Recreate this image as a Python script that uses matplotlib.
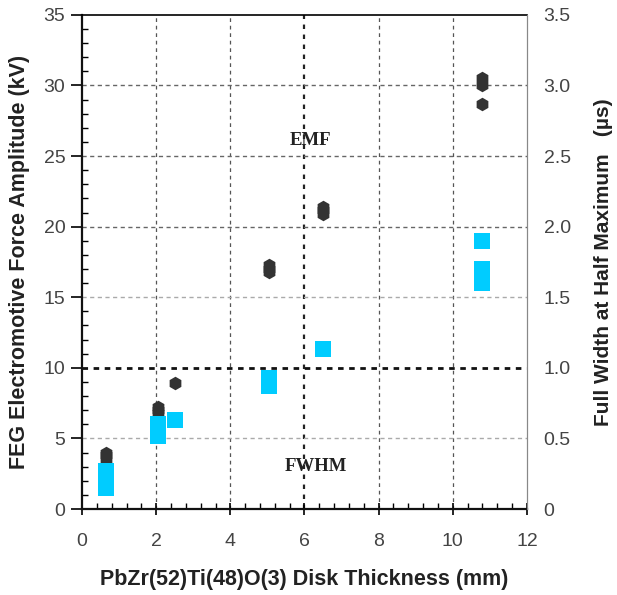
import matplotlib
matplotlib.use("Agg")
import matplotlib.pyplot as plt
from matplotlib.ticker import MultipleLocator

# EMF data (kV, left axis)
emf_x = [0.65, 0.65, 0.65, 2.05, 2.05, 2.05, 2.5, 5.05, 5.05, 5.05, 6.5, 6.5, 6.5, 10.8, 10.8, 10.8]
emf_y = [3.5, 3.8, 4.0, 6.8, 7.0, 7.2, 8.9, 16.8, 17.0, 17.3, 20.9, 21.2, 21.4, 28.7, 30.0, 30.5]

# FWHM data (us, right axis)
fwhm_x = [0.65, 0.65, 0.65, 0.65, 2.05, 2.05, 2.05, 2.5, 5.05, 5.05, 6.5, 10.8, 10.8, 10.8]
fwhm_y = [0.15, 0.2, 0.25, 0.27, 0.52, 0.56, 0.6, 0.63, 0.87, 0.93, 1.13, 1.6, 1.7, 1.9]

xticks = [0, 2, 4, 6, 8, 10, 12]
yticks_left = [0, 5, 10, 15, 20, 25, 30, 35]
yticks_right = [0, 0.5, 1.0, 1.5, 2.0, 2.5, 3.0, 3.5]
yticklabels_right = ["0", "0.5", "1.0", "1.5", "2.0", "2.5", "3.0", "3.5"]

plt.rcParams['font.family'] = ['Liberation Sans', 'DejaVu Sans']

fig = plt.figure(figsize=(6.17, 5.95), dpi=100)
ax = fig.add_axes([0.133, 0.1445, 0.721, 0.8305])
ax.set_xlim(0, 12)
ax.set_ylim(0, 35)

# grid lines
for xv in [2, 4, 8, 10]:
    ax.axvline(xv, color='#555555', lw=0.9, ls=(0, (3, 3)), zorder=1)
ax.axvline(6, color='#222222', lw=1.6, ls=(0, (2, 2.5)), zorder=1)
for yv, c in [(5, '#aaaaaa'), (15, '#aaaaaa'), (20, '#666666'), (25, '#666666'), (30, '#666666')]:
    ax.axhline(yv, color=c, lw=1.0, ls=(0, (3, 2.5)), zorder=1)
ax.axhline(10, color='#111111', lw=2.0, ls=(0, (2, 2)), zorder=1)

ax.set_xticks(xticks)
ax.set_yticks(yticks_left)
ax.xaxis.set_minor_locator(MultipleLocator(0.4))
ax.yaxis.set_minor_locator(MultipleLocator(1))
ax.tick_params(axis='x', which='major', direction='inout', length=8, width=1.2, labelsize=14, labelcolor='#444444', pad=13)
ax.tick_params(axis='x', which='minor', direction='in', length=4, width=1)
ax.tick_params(axis='y', which='major', direction='out', length=8, width=1.2, labelsize=14, labelcolor='#444444', pad=4)
ax.tick_params(axis='y', which='minor', direction='in', length=4, width=1)

for s in ['left', 'bottom']:
    ax.spines[s].set_linewidth(1.6)
    ax.spines[s].set_color('#111111')
ax.spines['top'].set_linewidth(1.2)
ax.spines['right'].set_color('#888888')

ax.scatter(emf_x, emf_y, marker='h', s=95, color='#333333', zorder=4, linewidths=0)

ax2 = ax.twinx()
ax2.set_ylim(0, 3.5)
ax2.set_yticks(yticks_right)
ax2.set_yticklabels(yticklabels_right)
ax2.tick_params(axis='y', length=0, labelsize=14, labelcolor='#444444', pad=12)
ax2.spines['right'].set_color('#888888')
ax2.spines['left'].set_visible(False)
ax2.spines['top'].set_visible(False)
ax2.spines['bottom'].set_visible(False)
ax2.scatter(fwhm_x, fwhm_y, marker='s', s=125, color='#00CCFF', zorder=3, linewidths=0)

ax.text(6.15, 26.1, "EMF", ha='center', va='center', fontsize=13.5, fontweight='bold',
        family=['Liberation Serif', 'DejaVu Serif'], color='#222222')
ax.text(6.3, 3.0, "FWHM", ha='center', va='center', fontsize=13.5, fontweight='bold',
        family=['Liberation Serif', 'DejaVu Serif'], color='#222222')

ax.set_xlabel("PbZr(52)Ti(48)O(3) Disk Thickness (mm)", fontsize=15.5, fontweight='bold', color='#222222', labelpad=14)
ax.set_ylabel("FEG Electromotive Force Amplitude (kV)", fontsize=15.5, fontweight='bold', color='#222222', labelpad=10)
ax2.set_ylabel("Full Width at Half Maximum   (\u00b5s)", fontsize=15, fontweight='bold', color='#222222', labelpad=17)

fig.savefig("out.png", dpi=100)
